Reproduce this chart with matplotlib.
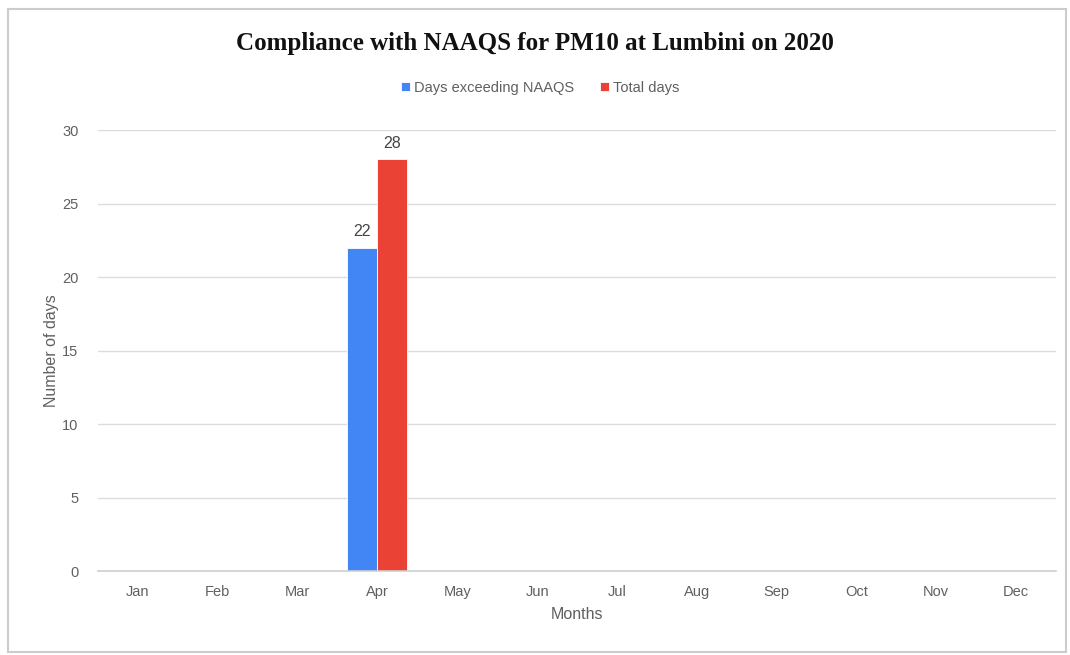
import matplotlib
matplotlib.use("Agg")
import matplotlib.pyplot as plt
import numpy as np
from matplotlib.patches import Rectangle

months = ["Jan", "Feb", "Mar", "Apr", "May", "Jun", "Jul", "Aug", "Sep", "Oct", "Nov", "Dec"]
days_exceeding = [None, None, None, 22, None, None, None, None, None, None, None, None]
total_days = [None, None, None, 28, None, None, None, None, None, None, None, None]
series_names = ["Days exceeding NAAQS", "Total days"]
colors = ["#4285F4", "#EA4335"]
yticks = [0, 5, 10, 15, 20, 25, 30]

fig = plt.figure(figsize=(10.70, 6.55), dpi=100)
ax = fig.add_axes([0.0916, 0.1282, 0.8953, 0.6733])

x = np.arange(len(months))
w = 0.375
for i, (vals, name, c) in enumerate(zip([days_exceeding, total_days], series_names, colors)):
    xs = [xi + (i - 0.5) * w for xi, v in zip(x, vals) if v is not None]
    vs = [v for v in vals if v is not None]
    bars = ax.bar(xs, vs, width=w, color=c, label=name, zorder=3,
                  edgecolor="white", linewidth=0.6)
    for b, v in zip(bars, vs):
        ax.text(b.get_x() + b.get_width() / 2, v + 0.6, str(v), ha="center", va="bottom",
                fontsize=11.5, color="#444444", family="Liberation Sans")

ax.set_xlim(-0.5, len(months) - 0.5)
ax.set_ylim(0, 30)
ax.set_yticks(yticks)
ax.set_xticks(x)
ax.set_xticklabels(months)
for s in ax.spines.values():
    s.set_visible(False)
ax.grid(axis="y", color="#dcdcdc", linewidth=1, zorder=0)
ax.axhline(0, color="#cfcfcf", linewidth=1.2, zorder=4, clip_on=False)
ax.tick_params(axis="both", length=0, labelsize=10.5, colors="#606060", pad=10)
for lab in ax.get_xticklabels() + ax.get_yticklabels():
    lab.set_family("Liberation Sans")
ax.tick_params(axis="y", pad=14)
ax.set_xlabel("Months", fontsize=11.5, color="#606060", family="Liberation Sans", labelpad=6)
ax.set_ylabel("Number of days", fontsize=11.5, color="#606060", family="Liberation Sans", labelpad=2)

fig.text(0.5, 0.934, "Compliance with NAAQS for PM10 at Lumbini on 2020", ha="center", va="center",
         fontsize=18, fontweight="bold", family="Liberation Serif", color="#111111")
leg = fig.legend(loc="center", bbox_to_anchor=(0.505, 0.866), ncol=2, frameon=False,
                 handlelength=0.6, handleheight=0.6, handletextpad=0.3,
                 columnspacing=1.8, prop={"family": "Liberation Sans", "size": 10.5})
for t in leg.get_texts():
    t.set_color("#606060")

fig.patches.append(Rectangle((0.0075, 0.005), 0.989, 0.981, transform=fig.transFigure,
                             fill=False, edgecolor="#cccccc", linewidth=1.5))

fig.savefig("out.png", dpi=100)
